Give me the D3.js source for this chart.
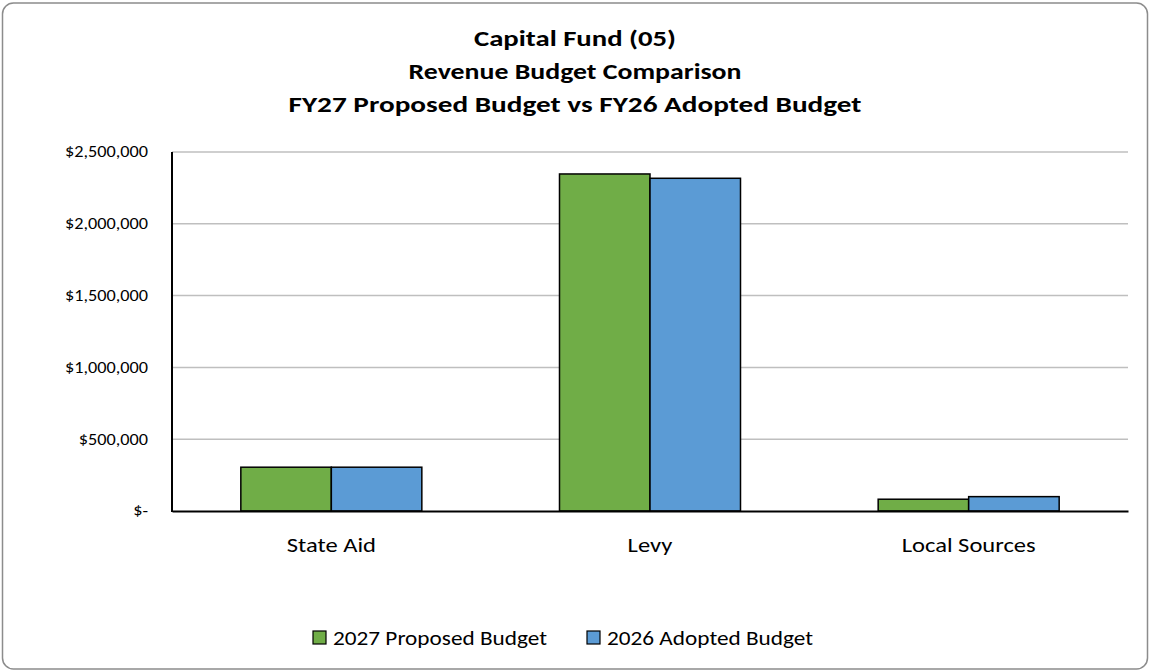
<!DOCTYPE html>
<html>
<head>
<meta charset="utf-8">
<script src="https://cdn.jsdelivr.net/npm/d3@7"></script>
<style>
  html, body { margin: 0; padding: 0; background: #fff; }
  svg { display: block; font-family: Carlito, Calibri, Lato, "Open Sans", sans-serif; }
</style>
</head>
<body>
<svg id="chart" width="1150" height="671"></svg>
<script>
// Revenue categories and budget figures
const categories = ["State Aid", "Levy", "Local Sources"];
const seriesNames = ["2027 Proposed Budget", "2026 Adopted Budget"];
const proposed2027 = [305000, 2347000, 82000];
const adopted2026 = [305000, 2317000, 100000];
const yTicks = [0, 500000, 1000000, 1500000, 2000000, 2500000];
const titleLines = ["Capital Fund (05)", "Revenue Budget Comparison", "FY27 Proposed Budget vs FY26 Adopted Budget"];
const seriesColors = ["#70AD47", "#5B9BD5"];

const FONT = "Carlito, Calibri, Lato, 'Open Sans', sans-serif";
const svg = d3.select("#chart");
const W = 1150, H = 671;
const plot = { left: 172, right: 1128, top: 152, bottom: 511 };

// widen a set of labels by a common factor so they keep the wide Calibri-like look
function stretch(sel, factor) {
  sel.each(function () {
    const w = this.getComputedTextLength();
    d3.select(this).attr("textLength", w * factor).attr("lengthAdjust", "spacingAndGlyphs");
  });
}

// chart frame
svg.append("rect")
  .attr("x", 2.5).attr("y", 3).attr("width", W - 5).attr("height", H - 5)
  .attr("rx", 11).attr("ry", 11)
  .attr("fill", "#fff").attr("stroke", "#8c8c8c").attr("stroke-width", 1.5);

// title
const titleWidths = [202, 333, 573];
svg.append("g").selectAll("text").data(titleLines).join("text")
  .attr("x", 575)
  .attr("y", (d, i) => 46 + i * 33)
  .attr("text-anchor", "middle")
  .attr("font-weight", "bold")
  .attr("font-size", 22)
  .attr("fill", "#000")
  .text(d => d)
  .attr("textLength", (d, i) => titleWidths[i])
  .attr("lengthAdjust", "spacingAndGlyphs");

const x0 = d3.scaleBand().domain(categories)
  .range([plot.left, plot.right]).paddingInner(0.432).paddingOuter(0.216);
const x1 = d3.scaleBand().domain(seriesNames).range([0, x0.bandwidth()]);
const y = d3.scaleLinear().domain([0, 2500000]).range([plot.bottom, plot.top]);

// gridlines
svg.append("g").selectAll("line").data(yTicks.filter(t => t > 0)).join("line")
  .attr("x1", plot.left).attr("x2", plot.right)
  .attr("y1", d => y(d)).attr("y2", d => y(d))
  .attr("stroke", "#bfbfbf").attr("stroke-width", 1.5);

// y axis labels
const fmt = d => d === 0 ? "$-" : "$" + d3.format(",")(d);
const yAxis = d3.axisLeft(y).tickValues(yTicks).tickFormat(fmt).tickSize(0).tickPadding(24);
const yg = svg.append("g").attr("transform", `translate(${plot.left},0)`).call(yAxis);
yg.select(".domain").remove();
const yLabels = yg.selectAll("text").attr("font-size", 15.5).attr("fill", "#000")
  .attr("font-family", FONT);
const topLabel = yLabels.filter(d => d === 2500000).node();
stretch(yLabels, 83 / topLabel.getComputedTextLength());

// bars
const data = categories.map((c, i) => ({ cat: c, vals: [proposed2027[i], adopted2026[i]] }));
const groups = svg.append("g").selectAll("g").data(data).join("g")
  .attr("transform", d => `translate(${x0(d.cat)},0)`);
groups.selectAll("rect").data(d => d.vals.map((v, j) => ({ name: seriesNames[j], v, j }))).join("rect")
  .attr("x", d => x1(d.name))
  .attr("width", x1.bandwidth())
  .attr("y", d => y(d.v))
  .attr("height", d => y(0) - y(d.v))
  .attr("fill", d => seriesColors[d.j])
  .attr("stroke", "#000").attr("stroke-width", 1.5);

// axis lines
svg.append("line").attr("x1", plot.left).attr("x2", plot.left)
  .attr("y1", plot.top).attr("y2", plot.bottom + 1)
  .attr("stroke", "#000").attr("stroke-width", 2);
const xAxis = d3.axisBottom(x0).tickSize(0).tickPadding(26);
const xg = svg.append("g").attr("transform", `translate(0,${plot.bottom})`).call(xAxis);
xg.select(".domain").attr("stroke", "#000").attr("stroke-width", 2);
const xLabels = xg.selectAll("text").attr("font-size", 21).attr("fill", "#000")
  .attr("font-family", FONT);
const lastLabel = xLabels.filter(d => d === "Local Sources").node();
stretch(xLabels, 134 / lastLabel.getComputedTextLength());

// legend
const legendX = [313, 587];
const legendWidths = [214, 206];
const lg = svg.append("g").selectAll("g").data(seriesNames).join("g")
  .attr("transform", (d, i) => `translate(${legendX[i]},631)`);
lg.append("rect").attr("width", 13).attr("height", 13)
  .attr("fill", (d, i) => seriesColors[i]).attr("stroke", "#000").attr("stroke-width", 1.2);
lg.append("text").attr("x", 20).attr("y", 13.5)
  .attr("font-size", 21).attr("fill", "#000").text(d => d)
  .attr("textLength", (d, i) => legendWidths[i])
  .attr("lengthAdjust", "spacingAndGlyphs");
</script>
</body>
</html>
